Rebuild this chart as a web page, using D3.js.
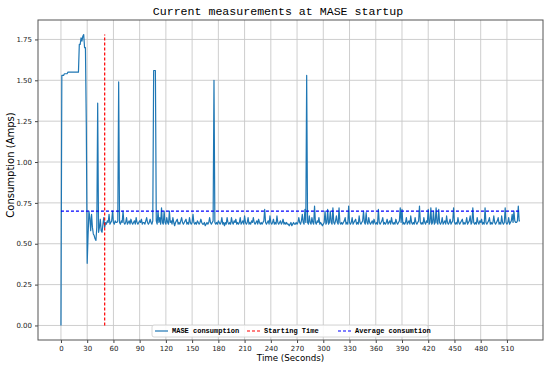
<!DOCTYPE html>
<html>
<head>
<meta charset="utf-8">
<script src="https://cdn.jsdelivr.net/npm/d3@7"></script>
<style>
body{margin:0;background:#fff;}
</style>
</head>
<body>
<div id="chart"></div>
<script>
// one sample per second, starting at t=0
var amps=[
0.00,1.53,1.53,1.53,1.54,1.54,1.54,1.54,1.55,1.55,1.55,1.55,1.55,1.55,1.55,1.55,1.55,1.55,1.55,1.55,
1.55,1.72,1.72,1.76,1.74,1.77,1.78,1.70,1.70,1.22,0.38,0.55,0.70,0.66,0.58,0.68,0.60,0.56,0.55,0.53,
0.52,0.60,1.36,0.57,0.60,0.65,0.58,0.57,0.62,0.66,0.60,0.63,0.62,0.64,0.63,0.68,0.62,0.63,0.64,0.70,
0.63,0.62,0.64,0.63,0.63,0.64,1.49,0.63,0.62,0.64,0.63,0.70,0.63,0.62,0.63,0.66,0.62,0.63,0.64,0.62,
0.65,0.63,0.62,0.63,0.64,0.62,0.66,0.63,0.62,0.63,0.64,0.63,0.65,0.62,0.63,0.63,0.62,0.64,0.66,0.63,
0.62,0.63,0.65,0.63,0.62,0.64,1.56,1.56,1.56,0.64,0.62,0.70,0.63,0.66,0.62,0.72,0.63,0.62,0.70,0.63,
0.62,0.66,0.63,0.62,0.70,0.63,0.64,0.62,0.66,0.63,0.61,0.63,0.64,0.65,0.62,0.63,0.62,0.64,0.66,0.63,
0.62,0.63,0.64,0.65,0.62,0.63,0.62,0.66,0.63,0.62,0.63,0.68,0.63,0.62,0.63,0.62,0.64,0.63,0.62,0.63,
0.65,0.63,0.62,0.62,0.63,0.61,0.62,0.63,0.62,0.63,0.66,0.63,0.62,0.63,0.64,1.50,0.63,0.62,0.63,0.62,
0.64,0.63,0.62,0.63,0.66,0.62,0.63,0.61,0.63,0.62,0.66,0.63,0.62,0.63,0.62,0.66,0.63,0.62,0.64,0.63,
0.65,0.62,0.63,0.62,0.63,0.66,0.62,0.63,0.64,0.62,0.67,0.63,0.62,0.63,0.66,0.62,0.63,0.62,0.64,0.63,
0.66,0.63,0.62,0.63,0.64,0.62,0.65,0.63,0.62,0.63,0.62,0.63,0.64,0.71,0.63,0.62,0.63,0.64,0.62,0.67,
0.63,0.62,0.63,0.65,0.62,0.63,0.62,0.67,0.63,0.62,0.63,0.64,0.62,0.63,0.65,0.62,0.63,0.62,0.63,0.62,
0.62,0.61,0.62,0.63,0.61,0.62,0.63,0.62,0.62,0.63,0.62,0.63,0.66,0.63,0.62,0.64,0.68,0.63,0.62,0.71,
0.63,1.53,0.63,0.62,0.67,0.63,0.62,0.66,0.63,0.62,0.73,0.63,0.62,0.64,0.63,0.66,0.62,0.63,0.62,0.61,
0.62,0.63,0.70,0.62,0.63,0.71,0.62,0.63,0.70,0.63,0.62,0.72,0.63,0.62,0.64,0.67,0.63,0.62,0.72,0.63,
0.62,0.63,0.62,0.63,0.64,0.66,0.62,0.63,0.62,0.73,0.63,0.62,0.63,0.66,0.62,0.63,0.64,0.65,0.62,0.63,
0.62,0.67,0.63,0.62,0.63,0.64,0.70,0.63,0.62,0.69,0.63,0.62,0.66,0.63,0.62,0.63,0.64,0.62,0.65,0.63,
0.62,0.63,0.62,0.71,0.63,0.62,0.63,0.64,0.66,0.62,0.63,0.62,0.63,0.65,0.62,0.63,0.64,0.62,0.66,0.63,
0.62,0.63,0.62,0.65,0.63,0.62,0.63,0.64,0.72,0.63,0.71,0.62,0.63,0.62,0.63,0.66,0.62,0.63,0.64,0.62,
0.67,0.63,0.62,0.63,0.62,0.66,0.63,0.62,0.63,0.64,0.73,0.63,0.62,0.63,0.62,0.66,0.63,0.62,0.64,0.63,
0.71,0.62,0.63,0.72,0.62,0.63,0.70,0.62,0.63,0.72,0.63,0.62,0.71,0.63,0.62,0.63,0.66,0.62,0.63,0.64,
0.62,0.67,0.63,0.62,0.63,0.65,0.62,0.63,0.64,0.72,0.63,0.62,0.63,0.62,0.66,0.63,0.62,0.63,0.64,0.65,
0.62,0.63,0.62,0.63,0.66,0.62,0.63,0.64,0.67,0.62,0.63,0.72,0.63,0.62,0.63,0.62,0.66,0.63,0.62,0.64,
0.63,0.65,0.62,0.63,0.62,0.72,0.63,0.62,0.63,0.64,0.66,0.62,0.63,0.62,0.63,0.67,0.63,0.62,0.63,0.64,
0.66,0.62,0.63,0.62,0.67,0.63,0.62,0.63,0.72,0.63,0.62,0.63,0.66,0.62,0.63,0.64,0.68,0.63,0.70,0.64,
0.63,0.63,0.64,0.73,0.64,0.64
];
var startTime=50;
var avgAmps=0.70;
var xTicks=[0,30,60,90,120,150,180,210,240,270,300,330,360,390,420,450,480,510];
var yTicks=[0,0.25,0.5,0.75,1.0,1.25,1.5,1.75];
var legendLabels=["MASE consumption","Starting Time","Average consumtion"];
var legendColors=["#1f77b4","red","blue"];

var width=550, height=367;
var margin={top:20,right:7,bottom:27,left:38};

var svg=d3.select("#chart").append("svg")
          .attr("width",width)
          .attr("height",height);

var tMax=amps.length-1;
var vMax=d3.max(amps);
var xPad=tMax*0.05, yPad=vMax*0.05;

var x=d3.scaleLinear()
        .domain([-xPad,tMax+xPad])
        .range([margin.left,width-margin.right]);
var y=d3.scaleLinear()
        .domain([-yPad,vMax+yPad])
        .range([height-margin.bottom,margin.top]);

// grid
svg.append("g").selectAll("line")
   .data(xTicks).enter().append("line")
   .attr("x1",function(d){return x(d);})
   .attr("x2",function(d){return x(d);})
   .attr("y1",margin.top).attr("y2",height-margin.bottom)
   .attr("stroke","#c8c8c8").attr("stroke-width",0.9);
svg.append("g").selectAll("line")
   .data(yTicks).enter().append("line")
   .attr("y1",function(d){return y(d);})
   .attr("y2",function(d){return y(d);})
   .attr("x1",margin.left).attr("x2",width-margin.right)
   .attr("stroke","#c8c8c8").attr("stroke-width",0.9);

// axes
var xAxis=svg.append("g")
   .attr("transform","translate(0,"+(height-margin.bottom)+")")
   .call(d3.axisBottom(x).tickValues(xTicks).tickSize(3).tickPadding(3));
var yAxis=svg.append("g")
   .attr("transform","translate("+margin.left+",0)")
   .call(d3.axisLeft(y).tickValues(yTicks).tickFormat(d3.format(".2f")).tickSize(3).tickPadding(3));
[xAxis,yAxis].forEach(function(a){
  a.select(".domain").remove();
  a.selectAll("text").attr("font-family","DejaVu Sans").attr("font-size",7).attr("fill","#222");
  a.selectAll("line").attr("stroke","#444");
});

// data line
var line=d3.line()
           .x(function(d,i){return x(i);})
           .y(function(d){return y(d);});
svg.append("path")
   .datum(amps)
   .attr("d",line)
   .attr("fill","none")
   .attr("stroke","#1f77b4")
   .attr("stroke-width",1.2)
   .attr("stroke-linejoin","round");

// starting time
svg.append("line")
   .attr("x1",x(startTime)).attr("x2",x(startTime))
   .attr("y1",y(0)).attr("y2",y(vMax))
   .attr("stroke","red").attr("stroke-width",1.2)
   .attr("stroke-dasharray","3,2");

// average consumption
svg.append("line")
   .attr("x1",x(0)).attr("x2",x(tMax))
   .attr("y1",y(avgAmps)).attr("y2",y(avgAmps))
   .attr("stroke","blue").attr("stroke-width",1.2)
   .attr("stroke-dasharray","3,2");

// frame
svg.append("rect")
   .attr("x",margin.left).attr("y",margin.top)
   .attr("width",width-margin.left-margin.right)
   .attr("height",height-margin.top-margin.bottom)
   .attr("fill","none").attr("stroke","#555").attr("stroke-width",1);

// title and labels
svg.append("text")
   .text("Current measurements at MASE startup")
   .attr("x",278)
   .attr("y",14.5)
   .attr("text-anchor","middle")
   .attr("font-family","Liberation Mono")
   .attr("font-size",11.6)
   .attr("fill","black");
svg.append("text")
   .text("Time (Seconds)")
   .attr("x",(margin.left+width-margin.right)/2)
   .attr("y",361)
   .attr("text-anchor","middle")
   .attr("font-family","DejaVu Sans")
   .attr("font-size",8.7)
   .attr("fill","black");
svg.append("text")
   .text("Consumption (Amps)")
   .attr("transform","translate(14,165) rotate(-90)")
   .attr("text-anchor","middle")
   .attr("font-family","DejaVu Sans")
   .attr("font-size",10)
   .attr("fill","black");

// legend
var legend=svg.append("g");
legend.append("rect")
      .attr("x",152).attr("y",325)
      .attr("width",276).attr("height",12)
      .attr("rx",2)
      .attr("fill","white").attr("fill-opacity",0.85)
      .attr("stroke","#ccc").attr("stroke-width",0.8);
var legendX=[155,247,338];
legend.selectAll("line")
      .data(legendLabels).enter().append("line")
      .attr("x1",function(d,i){return legendX[i];})
      .attr("x2",function(d,i){return legendX[i]+13;})
      .attr("y1",331).attr("y2",331)
      .attr("stroke",function(d,i){return legendColors[i];})
      .attr("stroke-width",1.2)
      .attr("stroke-dasharray",function(d,i){return i==0?null:"3,2";});
legend.selectAll("text")
      .data(legendLabels).enter().append("text")
      .text(function(d){return d;})
      .attr("x",function(d,i){return legendX[i]+17;})
      .attr("y",333.2)
      .attr("font-family","Liberation Mono")
      .attr("font-weight","bold")
      .attr("font-size",7)
      .attr("fill","black");
</script>
</body>
</html>
